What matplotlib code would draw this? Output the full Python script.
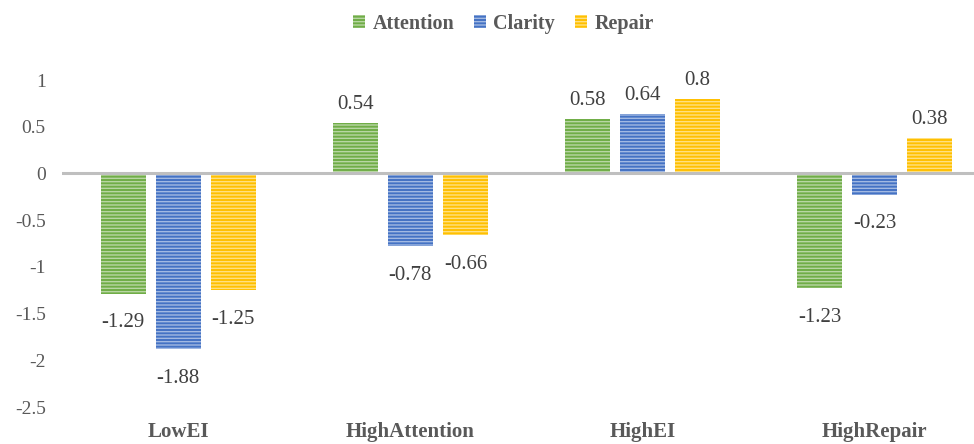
import numpy as np
import matplotlib.pyplot as plt
from matplotlib.colors import to_rgb
from matplotlib.ticker import FuncFormatter

# group scores per profile
groups = ['LowEI', 'HighAttention', 'HighEI', 'HighRepair']
attention = [-1.29, 0.54, 0.58, -1.23]
clarity = [-1.88, -0.78, 0.64, -0.23]
repair = [-1.25, -0.66, 0.8, 0.38]
series_names = ['Attention', 'Clarity', 'Repair']
colors = ['#70AD47', '#4472C4', '#FFC000']

plt.rcParams['font.family'] = ['Liberation Serif', 'DejaVu Serif']
plt.rcParams['axes.unicode_minus'] = False
plt.rcParams['hatch.linewidth'] = 1.0


def lighten(c, amt):
    r, g, b = to_rgb(c)
    return (r + (1 - r) * amt, g + (1 - g) * amt, b + (1 - b) * amt)


fig = plt.figure(figsize=(9.74, 4.44), dpi=100)
ax = fig.add_axes([0.064, 0.0833, 0.953, 0.7365])

x = np.arange(len(groups))
width = 0.194
step = 0.237
bars = []
for i, (vals, name, col) in enumerate(zip([attention, clarity, repair], series_names, colors)):
    b = ax.bar(x + (i - 1) * step, vals, width, color=col, edgecolor=lighten(col, 0.5),
               linewidth=0, hatch='-----', label=name, zorder=2)
    bars.append(b)
    for xi, v in zip(x + (i - 1) * step, vals):
        off = 6.5 if v >= 0 else -14
        ax.annotate(f'{v:g}', (xi, v), xytext=(0, off), textcoords='offset points',
                    ha='center', va='bottom' if v >= 0 else 'top',
                    fontsize=15, color='#404040')

ax.axhline(0, color='#BFBFBF', lw=2.2, zorder=3)
ax.set_xlim(-0.5, len(groups) - 0.5)
ax.set_ylim(-2.5, 1)
ax.set_yticks(np.arange(-2.5, 1.01, 0.5))
ax.yaxis.set_major_formatter(FuncFormatter(lambda v, p: f'{v:g}'))
ax.set_xticks(x)
ax.set_xticklabels(groups, fontweight='bold', fontsize=15, color='#595959')
ax.tick_params(axis='y', length=0, labelsize=14, labelcolor='#595959', pad=12)
ax.tick_params(axis='x', length=0, pad=11)
for s in ax.spines.values():
    s.set_visible(False)

fig.legend(handles=bars, labels=series_names, loc='center', bbox_to_anchor=(0.517, 0.947),
           ncol=3, frameon=False, handlelength=0.6, handleheight=0.6, handletextpad=0.35,
           columnspacing=1.0, prop={'weight': 'bold', 'size': 14.5}, labelcolor='#595959')

fig.savefig('out.png', dpi=100)
